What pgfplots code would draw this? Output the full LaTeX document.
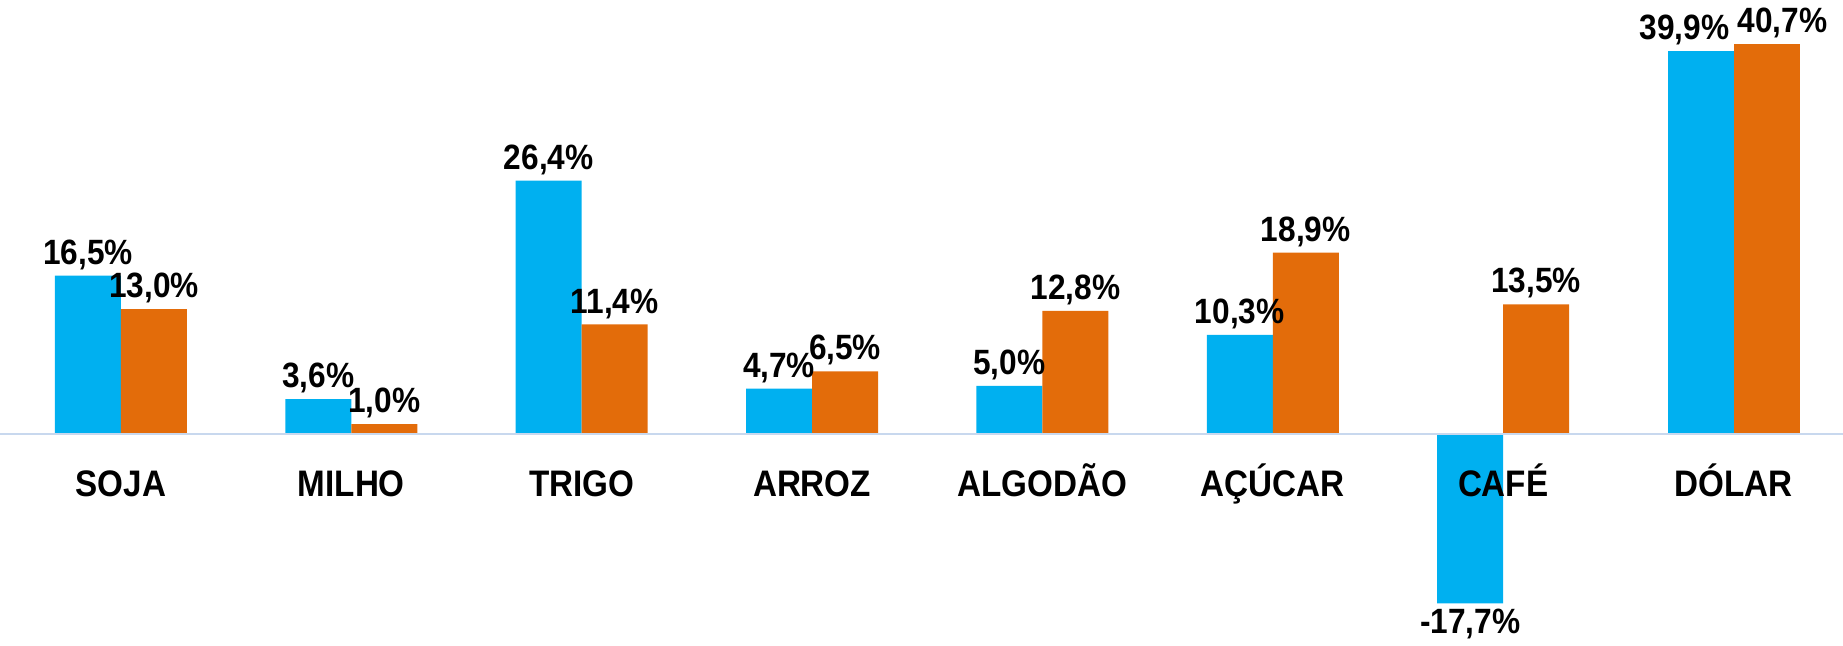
\documentclass[border=0pt]{standalone}
\usepackage{fontspec}
\setmainfont[FakeStretch=0.9]{Liberation Sans}
\usepackage{pgfplots}
\pgfplotsset{compat=1.18}
\definecolor{cblue}{RGB}{0,176,240}
\definecolor{corange}{RGB}{227,108,10}
\definecolor{zline}{RGB}{200,216,238}
\begin{document}
\begin{tikzpicture}
\begin{axis}[
  name=ax,
  scale only axis,
  width=18.43cm, height=6.46cm,
  xmin=-0.525, xmax=7.475,
  ymin=-22.14, ymax=45.24,
  ybar=0pt,
  bar width=6.6mm,
  axis x line=middle,
  axis y line=none,
  x axis line style={zline, line width=0.6pt, -},
  xtick={0,1,2,3,4,5,6,7},
  xticklabels={SOJA,MILHO,TRIGO,ARROZ,ALGODÃO,AÇÚCAR,CAFÉ,DÓLAR},
  xtick style={draw=none},
  xticklabel style={font=\fontsize{10.5}{12}\selectfont\bfseries, anchor=base, yshift=-5.5mm},
  axis on top,
  clip=false,
  /pgf/number format/assume math mode=true,
  nodes near coords={\pgfmathprintnumber[fixed,fixed zerofill,precision=1,use comma]{\pgfplotspointmeta}\%},
  every node near coord/.append style={font=\fontsize{10}{12}\selectfont\bfseries, text=black, inner sep=1.5pt},
]
\addplot[fill=cblue, draw=none, bar shift=-3.3mm] coordinates {(0,16.5) (1,3.6) (2,26.4) (3,4.7) (4,5.0) (5,10.3) (6,-17.7)};
\addplot[fill=corange, draw=none, bar shift=3.3mm] coordinates {(0,13.0) (1,1.0) (2,11.4) (3,6.5) (4,12.8) (5,18.9) (6,13.5)};
\addplot[fill=cblue, draw=none, bar shift=-3.3mm, every node near coord/.append style={xshift=-1.6mm}] coordinates {(7,39.9)};
\addplot[fill=corange, draw=none, bar shift=3.3mm, every node near coord/.append style={xshift=1.6mm}] coordinates {(7,40.7)};
\end{axis}
\pgfresetboundingbox
\path (ax.south west) rectangle (ax.north east);
\end{tikzpicture}
\end{document}
